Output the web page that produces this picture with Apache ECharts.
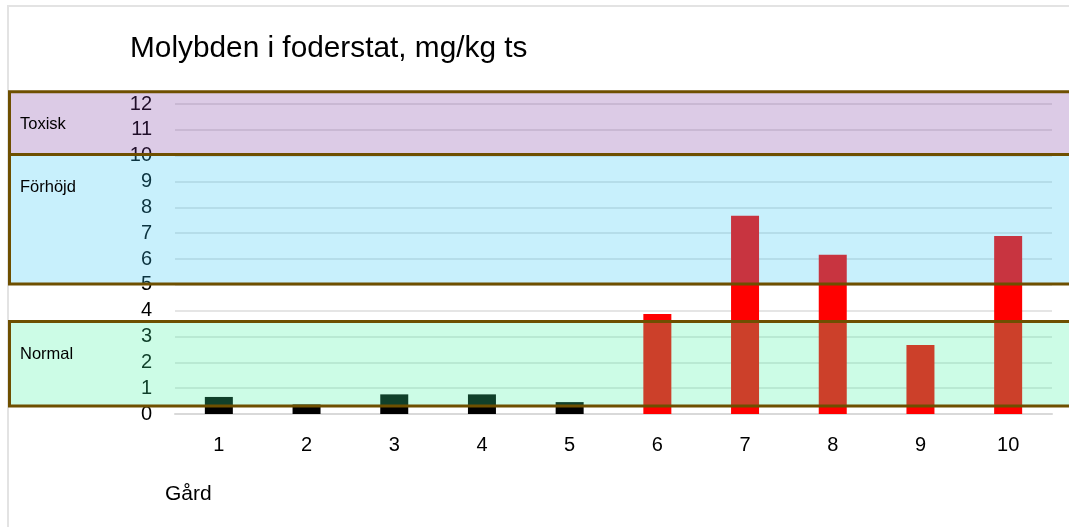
<!DOCTYPE html>
<html>
<head>
<meta charset="utf-8">
<script src="https://cdn.jsdelivr.net/npm/echarts@6/dist/echarts.min.js"></script>
<style>
  html, body { margin: 0; padding: 0; background: #fff; }
  #chart { width: 1069px; height: 527px; }
</style>
</head>
<body>
<div id="chart"></div>
<script>
// farms and measured molybdenum, mg/kg ts
const farms = ['1', '2', '3', '4', '5', '6', '7', '8', '9', '10'];
const molybden = [0.66, 0.37, 0.76, 0.76, 0.46, 3.87, 7.67, 6.16, 2.67, 6.89];

// reference bands (value range)
const bandNames = ['Toxisk', 'Förhöjd', 'Normal'];
const bandLow = [10.05, 5.03, 0.31];
const bandHigh = [12.47, 10.05, 3.58];

const yTicks = { min: 0, max: 12, interval: 1 };

const bandFill = [
  'rgba(122,57,160,0.263)',
  'rgba(46,198,243,0.263)',
  'rgba(61,243,160,0.263)'
];
const font = '"Liberation Sans", Arial, sans-serif';

const chart = echarts.init(document.getElementById('chart'));

chart.setOption({
  animation: false,
  backgroundColor: '#fff',
  title: [
    {
      text: 'Molybden i foderstat, mg/kg ts',
      left: 130, top: 34, padding: 0,
      textStyle: { fontFamily: font, fontSize: 29.8, fontWeight: 'normal', color: '#000' }
    },
    {
      text: 'Gård',
      left: 165, top: 484, padding: 0,
      textStyle: { fontFamily: font, fontSize: 21, fontWeight: 'normal', color: '#000' }
    }
  ],
  grid: { left: 175, right: 17, top: 104, bottom: 113 },
  xAxis: {
    type: 'category',
    data: farms,
    axisTick: { show: false },
    axisLine: { lineStyle: { color: '#d9d9d9', width: 2 } },
    axisLabel: { fontFamily: font, fontSize: 20, color: '#000', margin: 21 }
  },
  yAxis: {
    type: 'value',
    min: yTicks.min, max: yTicks.max, interval: yTicks.interval,
    axisLine: { show: false },
    axisTick: { show: false },
    splitLine: { lineStyle: { color: '#dcdcdc', width: 1.5 } },
    axisLabel: { fontFamily: font, fontSize: 20, color: '#000', margin: 23 }
  },
  series: [{
    type: 'bar',
    data: molybden,
    barWidth: 28,
    itemStyle: {
      color: p => (p.dataIndex < 5 ? '#000' : '#ff0000')
    }
  }]
});

// overlay bands sit on top of everything, like in the original sheet
function drawBands() {
  const els = [];
  bandNames.forEach((name, i) => {
    const yTop = chart.convertToPixel({ yAxisIndex: 0 }, bandHigh[i]);
    const yBot = chart.convertToPixel({ yAxisIndex: 0 }, bandLow[i]);
    els.push({
      type: 'rect', z: 100,
      shape: { x: 9.5, y: yTop, width: 1080, height: yBot - yTop },
      style: { fill: bandFill[i], stroke: '#6e4f00', lineWidth: 3 }
    });
    els.push({
      type: 'text', z: 101,
      x: 20, y: yTop + 33,
      style: { text: name, fontFamily: font, fontSize: 16.5, fill: '#000', verticalAlign: 'middle' }
    });
  });
  // chart frame
  els.push({
    type: 'rect', z: 1,
    shape: { x: 8, y: 6, width: 1100, height: 600 },
    style: { fill: 'none', stroke: '#e3e3e3', lineWidth: 2 }
  });
  chart.setOption({ graphic: els });
}
drawBands();
</script>
</body>
</html>
